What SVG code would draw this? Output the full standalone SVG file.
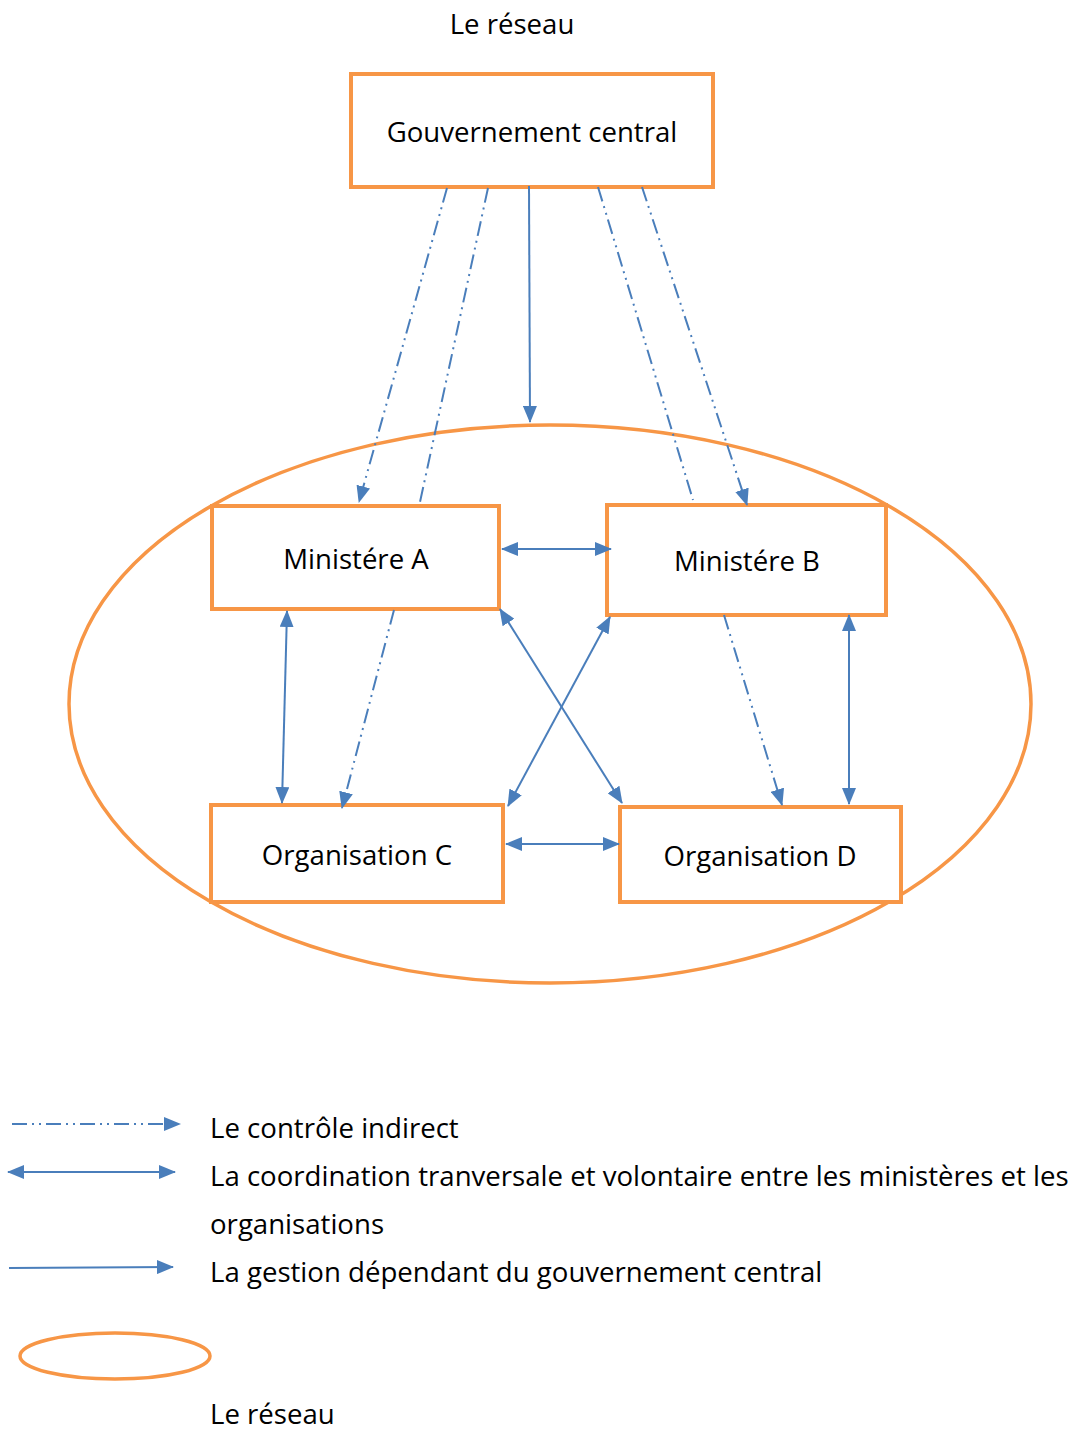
<svg xmlns="http://www.w3.org/2000/svg" width="1079" height="1432" viewBox="0 0 1079 1432">
<style>
.box{fill:#fff;stroke:#f79646;stroke-width:4}
.ell{fill:none;stroke:#f79646;stroke-width:3.5}
.t{font-family:"Open Sans","Liberation Sans",sans-serif;font-size:27.6px;fill:#000}
.c{stroke:#4a7ebb;stroke-width:2;fill:none}
.d{stroke-dasharray:15 5 2 5 2 5}
</style>
<defs>
<marker id="ah" markerUnits="userSpaceOnUse" markerWidth="17" markerHeight="14" refX="16" refY="7" orient="auto"><path d="M0,0 L17,7 L0,14 z" fill="#4a7ebb"/></marker>
<marker id="as" markerUnits="userSpaceOnUse" markerWidth="17" markerHeight="14" refX="1" refY="7" orient="auto"><path d="M17,0 L0,7 L17,14 z" fill="#4a7ebb"/></marker>
</defs>
<rect width="1079" height="1432" fill="#fff"/>
<text class="t" x="512" y="34" text-anchor="middle">Le réseau</text>
<g id="reseau"><ellipse class="ell" cx="550" cy="704" rx="481" ry="279"/></g>
<g id="gouv"><rect class="box" x="351" y="74" width="362" height="113"/><text class="t" x="532" y="142" text-anchor="middle">Gouvernement central</text></g>
<g id="minA"><rect class="box" x="212" y="506" width="287" height="103"/><text class="t" x="356" y="569" text-anchor="middle">Ministére A</text></g>
<g id="minB"><rect class="box" x="607" y="505" width="279" height="110"/><text class="t" x="747" y="571" text-anchor="middle">Ministére B</text></g>
<g id="orgC"><rect class="box" x="211" y="805" width="292" height="97"/><text class="t" x="357" y="865" text-anchor="middle">Organisation C</text></g>
<g id="orgD"><rect class="box" x="620" y="807" width="281" height="95"/><text class="t" x="760" y="866" text-anchor="middle">Organisation D</text></g>
<g id="connectors">
<line class="c d" x1="447" y1="188" x2="359" y2="502" marker-end="url(#ah)"/>
<line class="c d" x1="488" y1="188" x2="420" y2="502"/>
<line class="c" x1="529" y1="186" x2="530" y2="422" marker-end="url(#ah)"/>
<line class="c d" x1="598" y1="187" x2="693" y2="500"/>
<line class="c d" x1="642" y1="187" x2="747" y2="505" marker-end="url(#ah)"/>
<line class="c" x1="502" y1="549" x2="611" y2="549" marker-start="url(#as)" marker-end="url(#ah)"/>
<line class="c" x1="287" y1="611" x2="282" y2="803" marker-start="url(#as)" marker-end="url(#ah)"/>
<line class="c d" x1="394" y1="610" x2="342" y2="808" marker-end="url(#ah)"/>
<line class="c" x1="500" y1="609" x2="622" y2="803" marker-start="url(#as)" marker-end="url(#ah)"/>
<line class="c" x1="610" y1="617" x2="508" y2="806" marker-start="url(#as)" marker-end="url(#ah)"/>
<line class="c" x1="506" y1="844" x2="619" y2="844" marker-start="url(#as)" marker-end="url(#ah)"/>
<line class="c d" x1="724" y1="615" x2="782" y2="805" marker-end="url(#ah)"/>
<line class="c" x1="849" y1="615" x2="849" y2="804" marker-start="url(#as)" marker-end="url(#ah)"/>
</g>
<g id="legend">
<line class="c d" x1="12" y1="1124" x2="180" y2="1124" marker-end="url(#ah)"/>
<line class="c" x1="8" y1="1172" x2="175" y2="1172" marker-start="url(#as)" marker-end="url(#ah)"/>
<line class="c" x1="9" y1="1268" x2="173" y2="1267" marker-end="url(#ah)"/>
<ellipse class="ell" cx="115" cy="1356" rx="95" ry="23"/>
<text class="t" x="210" y="1138">Le contrôle indirect</text>
<text class="t" x="210" y="1186">La coordination tranversale et volontaire entre les ministères et les</text>
<text class="t" x="210" y="1234">organisations</text>
<text class="t" x="210" y="1282">La gestion dépendant du gouvernement central</text>
<text class="t" x="210" y="1424">Le réseau</text>
</g>
</svg>
